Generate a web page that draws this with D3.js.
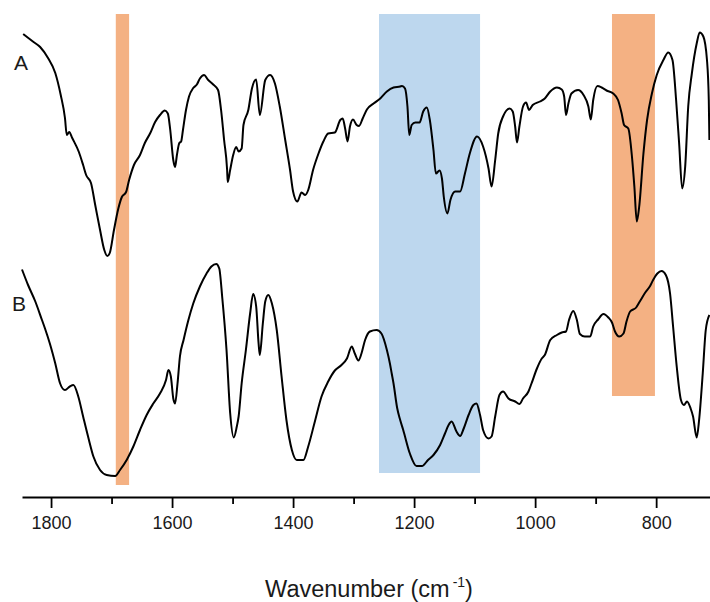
<!DOCTYPE html>
<html>
<head>
<meta charset="utf-8">
<script src="https://cdn.jsdelivr.net/npm/d3@7"></script>
<style>
  html, body { margin: 0; padding: 0; background: #fff; }
  svg { display: block; font-family: "Liberation Sans", Arial, sans-serif; }
</style>
</head>
<body>
<svg id="chart" width="710" height="602"></svg>
<script>
// FTIR spectra, wavenumber (cm-1) vs. transmittance (arbitrary units, B offset below A)
const wavenumberA = [1846,1830,1818,1805,1793,1784,1777,1774,1770,1765,1754,1747,1742,1734,1727,1719,1712,1707,1703,1696,1689,1683,1676,1671,1663,1653,1645,1636,1628,1620,1612,1607,1603,1598,1595,1592,1588,1585,1582,1577,1572,1565,1559,1554,1547,1541,1532,1524,1519,1514,1509,1508,1504,1499,1494,1490,1485,1482,1474,1468,1461,1455,1446,1438,1430,1422,1413,1405,1400,1393,1386,1380,1375,1367,1358,1350,1342,1331,1322,1318,1314,1310,1306,1301,1295,1291,1285,1278,1267,1256,1245,1234,1223,1220,1215,1211,1208,1204,1198,1191,1185,1179,1174,1168,1164,1158,1154,1151,1145,1140,1132,1124,1116,1108,1096,1086,1077,1072,1066,1061,1053,1042,1037,1033,1030,1026,1020,1015,1010,1004,992,984,975,964,956,952,949,945,940,929,920,912,908,904,897,890,882,871,863,857,853,846,840,836,832,828,821,815,807,799,788,780,773,767,762,757,752,747,741,733,728,722,716,713,712];
const transmittanceA = [93.2,91.7,90.6,88.4,85.4,81.0,76.4,73.0,73.6,72.4,69.6,67.0,65.0,63.4,59.0,54.0,50.0,48.8,49.4,54.0,58.2,60.6,61.6,64.0,67.0,69.0,71.4,73.4,75.6,77.0,77.9,77.3,74.0,68.0,66.6,69.0,71.4,71.7,74.0,78.0,80.7,82.4,83.1,84.3,85.0,84.1,83.1,82.0,78.0,72.0,66.0,63.6,66.0,69.0,70.6,69.7,70.3,75.0,78.0,82.3,84.1,77.0,84.0,85.0,83.3,78.7,72.0,66.0,61.7,59.7,61.5,61.0,62.0,66.0,69.3,71.7,73.3,73.5,76.0,76.3,74.3,71.7,74.7,76.1,75.0,74.8,76.3,78.1,79.3,80.3,81.7,82.5,82.7,82.8,82.3,78.7,73.0,75.0,75.5,75.5,77.7,78.5,76.0,70.0,65.3,65.9,64.3,60.7,57.3,60.0,61.7,61.7,65.3,69.3,72.7,70.7,66.3,62.7,68.0,73.3,76.7,78.3,77.7,74.7,71.5,74.7,78.7,79.5,78.0,79.0,79.7,80.3,81.7,82.5,82.1,80.7,77.0,79.3,81.3,82.0,81.0,78.7,76.1,80.0,82.8,82.5,81.9,81.3,80.0,77.3,75.0,74.3,68.7,62.7,55.7,58.7,69.3,76.0,81.3,85.0,88.0,89.5,88.0,80.0,71.3,62.3,66.7,78.7,85.3,91.3,93.5,92.7,88.0,80.0,72.0];

const wavenumberB = [1848,1838,1826,1815,1810,1802,1793,1785,1777,1769,1763,1755,1747,1738,1730,1719,1708,1694,1686,1675,1664,1653,1642,1631,1620,1610,1606,1602,1598,1595,1591,1587,1581,1573,1565,1554,1543,1535,1527,1522,1517,1510,1504,1498,1493,1490,1485,1478,1471,1466,1461,1457,1455,1450,1446,1441,1435,1427,1419,1411,1402,1394,1383,1375,1364,1353,1342,1331,1320,1311,1303,1298,1292,1287,1281,1273,1262,1254,1245,1240,1237,1234,1228,1223,1218,1207,1196,1187,1177,1168,1157,1149,1143,1138,1130,1124,1118,1110,1102,1097,1091,1086,1077,1072,1066,1059,1053,1044,1033,1026,1020,1011,1006,997,989,984,975,964,956,949,944,937,931,926,918,909,904,896,887,879,873,868,861,854,849,843,833,827,818,810,805,798,791,784,777,772,766,759,754,749,743,739,733,729,723,718,712];
const transmittanceB = [46.1,43.0,39.7,36.0,34.3,31.3,27.3,23.3,22.0,22.7,23.0,20.7,16.7,12.3,8.7,6.0,5.0,4.8,6.0,8.0,10.7,14.0,17.0,19.3,21.3,24.0,26.0,24.7,20.3,19.3,23.3,28.7,32.0,36.0,39.3,42.7,45.3,46.7,47.2,46.3,40.4,30.0,17.4,12.5,14.7,16.7,23.3,30.0,37.3,41.2,38.7,31.3,29.0,35.3,39.7,41.0,39.3,34.0,24.7,16.0,10.0,8.0,8.0,10.7,15.7,20.7,23.7,25.9,27.0,28.3,30.7,29.3,27.9,29.3,32.0,33.7,34.0,33.3,30.0,27.3,25.3,23.3,18.4,16.0,14.0,9.3,6.8,6.8,8.0,9.0,11.0,13.3,15.0,15.7,13.7,12.8,14.3,17.0,19.0,19.3,17.0,14.0,12.3,12.7,16.7,21.0,21.7,20.3,19.7,19.2,20.3,21.7,23.3,26.3,28.3,29.0,32.0,33.0,33.5,33.7,36.0,37.8,36.0,33.2,32.7,32.7,34.7,36.1,37.2,36.5,35.5,33.7,32.7,33.3,35.7,37.7,38.5,39.7,41.5,42.8,44.0,45.3,45.8,45.0,41.3,34.7,26.7,20.0,19.0,19.7,18.3,16.7,12.5,16.0,25.3,34.0,37.0];

// Highlighted absorption regions (cm-1) and the transmittance they reach down to
const bandFrom   = [1693, 1258, 873];
const bandTo     = [1671, 1091, 802];
const bandBottom = [3.0, 5.4, 20.8];
const bandTop    = 97.2;

const seriesLabels = ["A", "B"];
const majorTicks = [1800, 1600, 1400, 1200, 1000, 800];
const minorTicks = [1700, 1500, 1300, 1100, 900];
const axisTitle = "Wavenumber (cm";
const axisTitleSup = "-1";

const bandColors = ["#F4B183", "#BDD7EE", "#F4B183"];

const svg = d3.select("#chart");
const x = d3.scaleLinear().domain([1848, 711]).range([22, 710]);
const y = d3.scaleLinear().domain([0, 100]).range([500, 0]);
const axisY = 497;

// shaded bands
svg.append("g").selectAll("rect")
  .data(bandFrom.map((f, i) => ({ from: f, to: bandTo[i], bottom: bandBottom[i], color: bandColors[i] })))
  .join("rect")
  .attr("x", d => x(d.from))
  .attr("width", d => x(d.to) - x(d.from))
  .attr("y", y(bandTop))
  .attr("height", d => y(d.bottom) - y(bandTop))
  .attr("fill", d => d.color);

// spectra
const line = d3.line()
  .x(d => x(d[0]))
  .y(d => y(d[1]))
  .curve(d3.curveMonotoneX);

const series = [
  d3.zip(wavenumberA, transmittanceA),
  d3.zip(wavenumberB, transmittanceB)
];

svg.append("g").selectAll("path")
  .data(series)
  .join("path")
  .attr("d", line)
  .attr("fill", "none")
  .attr("stroke", "#000")
  .attr("stroke-width", 2)
  .attr("stroke-linejoin", "round");

// series labels
const labelPos = [[14, 70], [12, 311]];
svg.append("g").selectAll("text")
  .data(seriesLabels)
  .join("text")
  .attr("x", (d, i) => labelPos[i][0])
  .attr("y", (d, i) => labelPos[i][1])
  .attr("font-size", 21)
  .attr("fill", "#1a1a1a")
  .text(d => d);

// x axis: labelled major ticks plus unlabelled minor ticks
const majorAxis = d3.axisBottom(x)
  .tickValues(majorTicks)
  .tickFormat(d3.format("d"))
  .tickSize(11)
  .tickSizeOuter(0)
  .tickPadding(8);

const gx = svg.append("g")
  .attr("transform", `translate(0,${axisY})`)
  .call(majorAxis);
gx.select(".domain").attr("stroke", "#000").attr("stroke-width", 1.8);
gx.selectAll(".tick line").attr("stroke", "#000").attr("stroke-width", 1.8);
gx.selectAll(".tick text")
  .attr("font-size", 18)
  .attr("font-family", "Liberation Sans, Arial, sans-serif")
  .attr("fill", "#1a1a1a");

const minorAxis = d3.axisBottom(x)
  .tickValues(minorTicks)
  .tickFormat("")
  .tickSize(7)
  .tickSizeOuter(0);
const gm = svg.append("g")
  .attr("transform", `translate(0,${axisY})`)
  .call(minorAxis);
gm.select(".domain").remove();
gm.selectAll(".tick line").attr("stroke", "#000").attr("stroke-width", 1.8);

// axis title
const title = svg.append("text")
  .attr("x", 369)
  .attr("y", 597)
  .attr("text-anchor", "middle")
  .attr("font-size", 23.5)
  .attr("fill", "#1a1a1a");
title.append("tspan").text(axisTitle);
title.append("tspan").attr("font-size", 14).attr("dx", 3).attr("dy", -10).text(axisTitleSup);
title.append("tspan").attr("dy", 10).text(")");
</script>
</body>
</html>
